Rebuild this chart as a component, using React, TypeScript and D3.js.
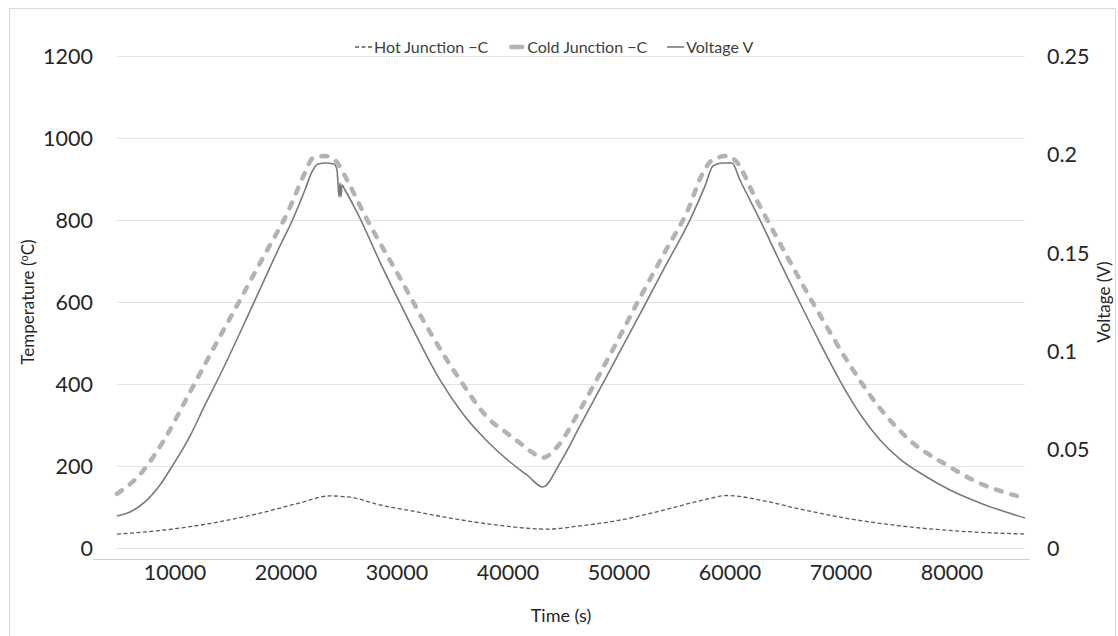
import React, { useEffect, useRef } from "react";
import * as d3 from "d3";

// readings taken off the original chart (time in s)
const coldTime = [4780, 7030, 8920, 11350, 13600, 15860, 18110, 20180, 21710, 22430, 23510, 24410, 25500, 26940, 30270, 32970, 35680, 38380, 39910, 41080, 42250, 43150, 44410, 46490, 49190, 51890, 54140, 56130, 57570, 58380, 59730, 60630, 62070, 62970, 65410, 68110, 70810, 73510, 76490, 79550, 82250, 84960, 86580];
const coldC = [132, 185, 259, 380, 493, 605, 717, 820, 915, 951, 956, 946, 898, 820, 659, 527, 410, 312, 280, 256, 232, 220, 246, 337, 471, 610, 722, 820, 915, 946, 956, 941, 866, 820, 698, 568, 446, 341, 256, 202, 161, 134, 122];

const hotTime = [4780, 9100, 13420, 17660, 21260, 23960, 25770, 28470, 31440, 35230, 39010, 43510, 46490, 50090, 53690, 57300, 59820, 62700, 66310, 70810, 75320, 80720, 86580];
const hotC = [34, 44, 61, 85, 110, 127, 124, 105, 90, 71, 56, 46, 54, 68, 90, 115, 128, 117, 95, 71, 54, 41, 34];

const voltTime = [4780, 5950, 7300, 8650, 9825, 11355, 12710, 14060, 16760, 19460, 20630, 21710, 22340, 22880, 23600, 24320, 24600, 24780, 24870, 24960, 25050, 25320, 26400, 28470, 30270, 32077, 33879, 35951, 38110, 40180, 41710, 43150, 44690, 46490, 49190, 51890, 54140, 56400, 57750, 58470, 59280, 60180, 60900, 62700, 64510, 66310, 68110, 69915, 71717, 73519, 75320, 77573, 79825, 82528, 86580];
const voltV = [0.0163, 0.0183, 0.0234, 0.032, 0.0422, 0.0569, 0.0727, 0.0879, 0.1204, 0.1535, 0.1672, 0.1819, 0.1911, 0.1951, 0.1956, 0.1951, 0.1921, 0.1784, 0.1855, 0.1784, 0.1845, 0.1819, 0.1707, 0.1453, 0.1245, 0.1042, 0.0854, 0.0681, 0.0544, 0.0437, 0.0371, 0.031, 0.0432, 0.062, 0.0904, 0.1189, 0.1428, 0.1667, 0.1839, 0.1941, 0.1956, 0.1956, 0.187, 0.1667, 0.1453, 0.1245, 0.1042, 0.0849, 0.0681, 0.0549, 0.0452, 0.0366, 0.0295, 0.0229, 0.0152];

const timeTicks = [10000, 20000, 30000, 40000, 50000, 60000, 70000, 80000];
const tempTicks = [0, 200, 400, 600, 800, 1000, 1200];
const voltTicks = [0, 0.05, 0.1, 0.15, 0.2, 0.25];
const seriesNames = ["Hot Junction \u2212C", "Cold Junction \u2212C", "Voltage V"];

const FONT = "Lato, Calibri, 'Open Sans', sans-serif";

const App = () => {
  const chartRef = useRef(null);

  useEffect(() => {
    document.body.style.margin = "0";
    d3.select(chartRef.current).selectAll("*").remove();

    const width = 1118;
    const height = 636;
    const plot = { left: 117, right: 1025, top: 56, bottom: 548 };

    const svg = d3
      .select(chartRef.current)
      .append("svg")
      .attr("width", width)
      .attr("height", height)
      .style("display", "block")
      .style("background", "#fff")
      .style("font-family", FONT);

    // chart border
    svg
      .append("rect")
      .attr("x", 9.5)
      .attr("y", 8.5)
      .attr("width", 1106)
      .attr("height", 640)
      .attr("fill", "none")
      .attr("stroke", "#d9d9d9");

    const x = d3.scaleLinear().domain([4780, 86580]).range([plot.left, plot.right]);
    const yT = d3.scaleLinear().domain([0, 1200]).range([plot.bottom, plot.top]);
    const yV = d3.scaleLinear().domain([0, 0.25]).range([plot.bottom, plot.top]);

    // gridlines
    svg
      .append("g")
      .selectAll("line")
      .data(tempTicks)
      .enter()
      .append("line")
      .attr("x1", plot.left)
      .attr("x2", plot.right)
      .attr("y1", (d) => Math.round(yT(d)) + 0.5)
      .attr("y2", (d) => Math.round(yT(d)) + 0.5)
      .attr("stroke", "#e3e3e3");

    // horizontal axis line
    svg
      .append("line")
      .attr("x1", 93)
      .attr("x2", 1030)
      .attr("y1", 559.5)
      .attr("y2", 559.5)
      .attr("stroke", "#d0d0d0");

    // tick labels
    svg
      .append("g")
      .selectAll("text")
      .data(tempTicks)
      .enter()
      .append("text")
      .attr("x", 93)
      .attr("y", (d) => yT(d))
      .attr("dy", "0.36em")
      .attr("text-anchor", "end")
      .attr("font-size", 21.5)
      .attr("fill", "#262626")
      .text((d) => d);

    svg
      .append("g")
      .selectAll("text")
      .data(voltTicks)
      .enter()
      .append("text")
      .attr("x", 1047)
      .attr("y", (d) => yV(d))
      .attr("dy", "0.36em")
      .attr("font-size", 21.5)
      .attr("fill", "#262626")
      .text((d) => String(d));

    svg
      .append("g")
      .selectAll("text")
      .data(timeTicks)
      .enter()
      .append("text")
      .attr("x", (d) => x(d))
      .attr("y", 572)
      .attr("dy", "0.36em")
      .attr("text-anchor", "middle")
      .attr("font-size", 21.5)
      .attr("fill", "#262626")
      .text((d) => d);

    // axis titles
    svg
      .append("text")
      .attr("x", 561)
      .attr("y", 616)
      .attr("dy", "0.36em")
      .attr("text-anchor", "middle")
      .attr("font-size", 18)
      .attr("fill", "#262626")
      .text("Time (s)");

    const tTitle = svg
      .append("text")
      .attr("transform", "translate(28,302) rotate(-90)")
      .attr("dy", "0.36em")
      .attr("text-anchor", "middle")
      .attr("font-size", 17)
      .attr("fill", "#262626");
    tTitle.append("tspan").text("Temperature (");
    tTitle.append("tspan").attr("font-size", 11).attr("dy", "-0.6em").text("o");
    tTitle.append("tspan").attr("dy", "0.4em").text("C)");

    svg
      .append("text")
      .attr("transform", "translate(1104,302) rotate(-90)")
      .attr("dy", "0.36em")
      .attr("text-anchor", "middle")
      .attr("font-size", 17)
      .attr("fill", "#262626")
      .text("Voltage (V)");

    // series
    const lineT = d3
      .line()
      .x((d) => x(d[0]))
      .y((d) => yT(d[1]))
      .curve(d3.curveMonotoneX);
    const lineV = d3
      .line()
      .x((d) => x(d[0]))
      .y((d) => yV(d[1]))
      .curve(d3.curveMonotoneX);

    const styles = [
      { color: "#5a5a5a", width: 1.3, dash: "4,2.5", cap: "butt" },
      { color: "#b3b3b3", width: 4.5, dash: "6,10", cap: "round" },
      { color: "#7a7a7a", width: 1.6, dash: null, cap: "butt" },
    ];

    svg
      .append("path")
      .attr("d", lineT(coldTime.map((t, i) => [t, coldC[i]])))
      .attr("fill", "none")
      .attr("stroke", styles[1].color)
      .attr("stroke-width", styles[1].width)
      .attr("stroke-dasharray", styles[1].dash)
      .attr("stroke-linecap", styles[1].cap);

    svg
      .append("path")
      .attr("d", lineV(voltTime.map((t, i) => [t, voltV[i]])))
      .attr("fill", "none")
      .attr("stroke", styles[2].color)
      .attr("stroke-width", styles[2].width);

    svg
      .append("path")
      .attr("d", lineT(hotTime.map((t, i) => [t, hotC[i]])))
      .attr("fill", "none")
      .attr("stroke", styles[0].color)
      .attr("stroke-width", styles[0].width)
      .attr("stroke-dasharray", styles[0].dash);

    // legend
    const legend = svg.append("g").attr("transform", "translate(355,47)");
    let offset = 0;
    seriesNames.forEach((name, i) => {
      const s = styles[i];
      legend
        .append("line")
        .attr("x1", offset + (s.cap === "round" ? 3 : 0))
        .attr("x2", offset + (s.cap === "round" ? 14 : 17))
        .attr("y1", 0)
        .attr("y2", 0)
        .attr("stroke", s.color)
        .attr("stroke-width", s.width)
        .attr("stroke-dasharray", s.cap === "round" ? null : s.dash)
        .attr("stroke-linecap", s.cap);
      const label = legend
        .append("text")
        .attr("x", offset + 19)
        .attr("y", 0)
        .attr("dy", "0.36em")
        .attr("font-size", 16)
        .attr("fill", "#404040")
        .text(name);
      const w = label.node().getComputedTextLength();
      offset += 19 + w + 20;
    });
  }, []);

  return <div ref={chartRef}></div>;
};

export default App;
